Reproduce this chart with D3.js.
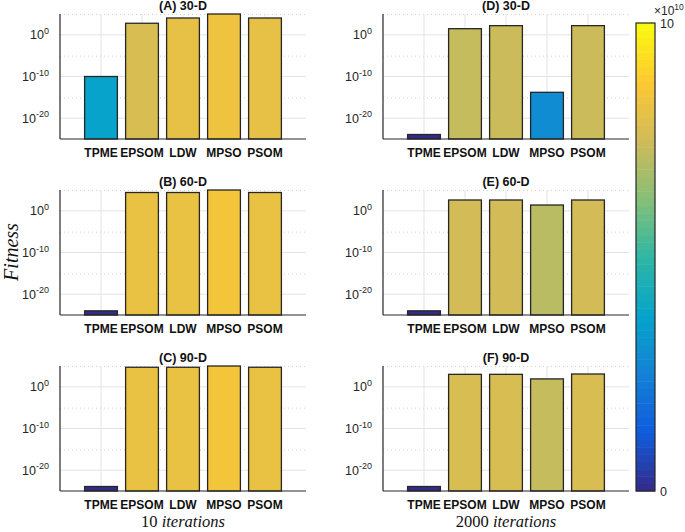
<!DOCTYPE html>
<html><head><meta charset="utf-8">
<script src="https://cdn.jsdelivr.net/npm/d3@7"></script>
<style>body{margin:0;background:#fff}svg{display:block}</style>
</head><body>
<script>
// ---------- data ----------
const categories = ["TPME","EPSOM","LDW","MPSO","PSOM"];
const panelTitles = ["(A) 30-D","(B) 60-D","(C) 90-D","(D) 30-D","(E) 60-D","(F) 90-D"];
const fitnessA = [1e-10, 6e2, 1.1e4, 2e5, 1.1e4];
const fitnessB = [1e-24, 2.5e4, 2.5e4, 2e5, 2.5e4];
const fitnessC = [1.2e-24, 5e4, 5e4, 2e5, 5e4];
const fitnessD = [1.2e-24, 3e1, 1.6e2, 1.6e-14, 1.6e2];
const fitnessE = [1e-24, 4e2, 4e2, 2.5e1, 4e2];
const fitnessF = [1.2e-24, 1e3, 1e3, 8e1, 1.2e3];
// colour values (x 1e10)
const colourA = [3.7, 7.7, 8.1, 8.3, 8.1];
const colourB = [0.05, 8.2, 8.2, 8.45, 8.2];
const colourC = [0.05, 8.2, 8.2, 8.45, 8.2];
const colourD = [0.05, 7.3, 7.4, 2.9, 7.4];
const colourE = [0.05, 7.55, 7.55, 7.1, 7.55];
const colourF = [0.05, 7.7, 7.7, 7.3, 7.7];
const yTickExponents = [0, -10, -20];
const yMinorExponents = [5, -5, -15];
const colourTicks = ["0", "10"];
const columnLabels = [["10", "iterations"], ["2000", "iterations"]];
const yLabel = "Fitness";

const fitness = [fitnessA, fitnessB, fitnessC, fitnessD, fitnessE, fitnessF];
const colours = [colourA, colourB, colourC, colourD, colourE, colourF];

// ---------- layout ----------
const W = 685, H = 532;
const colLeft = [60, 383], panelW = 246;
const rowTop = [14, 190, 366], panelH = 125;
const FONT = "'Liberation Sans', Arial, Helvetica, sans-serif";
const SERIF = "'Liberation Serif', 'Times New Roman', serif";

const parulaStops = ["#352a87","#0f5cdd","#1481d6","#06a4ca","#2eb7a4","#87bf77","#d1bb59","#fec832","#f9fb0e"];
const parula = d3.scaleLinear().domain(d3.range(9).map(i => i / 8 * 10)).range(parulaStops).interpolate(d3.interpolateRgb).clamp(true);

const svg = d3.select("body").append("svg").attr("width", W).attr("height", H)
  .style("font-family", FONT);

for (let p = 0; p < 6; p++) {
  const col = Math.floor(p / 3), row = p % 3;
  const left = colLeft[col], top = rowTop[row];
  const x = d3.scaleLinear().domain([0, 6]).range([left, left + panelW]);
  const y = d3.scaleLog().domain([1e-25, 1e5]).range([top + panelH, top]).clamp(true);
  const g = svg.append("g");

  // grid
  g.selectAll(".gmaj").data(yTickExponents).join("line")
    .attr("x1", x(0)).attr("x2", x(6))
    .attr("y1", d => y(Math.pow(10, d))).attr("y2", d => y(Math.pow(10, d)))
    .attr("stroke", "#e3e3e3").attr("stroke-width", 1);
  g.selectAll(".gmin").data(yMinorExponents).join("line")
    .attr("x1", x(0)).attr("x2", x(6))
    .attr("y1", d => y(Math.pow(10, d)) + 0.5).attr("y2", d => y(Math.pow(10, d)) + 0.5)
    .attr("stroke", "#cfcfcf").attr("stroke-width", 1).attr("stroke-dasharray", "1,3");
  g.selectAll(".gx").data(categories).join("line")
    .attr("x1", (d, i) => x(i + 1)).attr("x2", (d, i) => x(i + 1))
    .attr("y1", y(1e-25)).attr("y2", y(1e5))
    .attr("stroke", "#e3e3e3").attr("stroke-width", 1);

  // bars
  const bw = x(0.8) - x(0);
  g.selectAll(".bar").data(fitness[p]).join("rect")
    .attr("x", (d, i) => x(i + 1) - bw / 2)
    .attr("width", bw)
    .attr("y", d => y(d))
    .attr("height", d => y(1e-25) - y(d))
    .attr("fill", (d, i) => parula(colours[p][i]))
    .attr("stroke", "#262626").attr("stroke-width", 1.3);

  // axes
  g.append("line").attr("x1", x(0)).attr("x2", x(0)).attr("y1", top).attr("y2", top + panelH)
    .attr("stroke", "#262626").attr("stroke-width", 1.2);
  g.append("line").attr("x1", x(0)).attr("x2", x(6)).attr("y1", top + panelH).attr("y2", top + panelH)
    .attr("stroke", "#262626").attr("stroke-width", 1.2);

  // y tick labels
  const yt = g.selectAll(".yt").data(yTickExponents).join("text")
    .attr("x", left - 11).attr("y", d => y(Math.pow(10, d)) + 4.5)
    .attr("text-anchor", "end").attr("font-size", 12.5).attr("fill", "#262626");
  yt.append("tspan").text("10");
  yt.append("tspan").attr("dy", -5.5).attr("font-size", 9).text(d => String(d));

  // x tick labels
  g.selectAll(".xt").data(categories).join("text")
    .attr("x", (d, i) => x(i + 1)).attr("y", top + panelH + 18)
    .attr("text-anchor", "middle").attr("font-size", 12).attr("font-weight", "bold")
    .attr("fill", "#111").text(d => d);

  // title
  g.append("text").attr("x", x(3)).attr("y", top - 4.5)
    .attr("text-anchor", "middle").attr("font-size", 12.5).attr("font-weight", "bold")
    .attr("fill", "#111").text(panelTitles[p]);
}

// y label
svg.append("text").attr("transform", "translate(18,252) rotate(-90)")
  .attr("text-anchor", "middle").attr("font-family", SERIF)
  .attr("font-style", "italic").attr("font-size", 20).attr("fill", "#111").text(yLabel);

// column labels
columnLabels.forEach((lab, c) => {
  const cx = colLeft[c] + panelW / 2;
  const t = svg.append("text").attr("x", cx).attr("y", 527).attr("text-anchor", "middle")
    .attr("font-family", SERIF).attr("font-size", 16.5).attr("fill", "#111");
  t.append("tspan").text(lab[0] + " ");
  t.append("tspan").attr("font-style", "italic").text(lab[1]);
});

// colorbar
const cbX = 636, cbW = 19, cbTop = 23, cbBot = 491;
const cy = d3.scaleLinear().domain([0, 10]).range([cbBot, cbTop]);
const bands = d3.range(64);
svg.append("g").selectAll("rect").data(bands).join("rect")
  .attr("x", cbX).attr("width", cbW)
  .attr("y", k => cy((k + 1) / 64 * 10)).attr("height", k => cy(k / 64 * 10) - cy((k + 1) / 64 * 10) + 0.5)
  .attr("fill", k => parula((k + 0.5) / 64 * 10));
svg.append("rect").attr("x", cbX).attr("y", cbTop).attr("width", cbW).attr("height", cbBot - cbTop)
  .attr("fill", "none").attr("stroke", "#262626").attr("stroke-width", 1.2);
svg.selectAll(".cbt").data(colourTicks).join("text")
  .attr("x", cbX + cbW + 5).attr("y", d => cy(+d) + 4.5)
  .attr("font-size", 12.5).attr("fill", "#262626").text(d => d);
const ex = svg.append("text").attr("x", cbX + cbW - 1).attr("y", 15).attr("font-size", 12).attr("fill", "#262626");
ex.append("tspan").text("\u00d710");
ex.append("tspan").attr("dy", -5).attr("font-size", 8.5).text("10");
</script>
</body></html>
